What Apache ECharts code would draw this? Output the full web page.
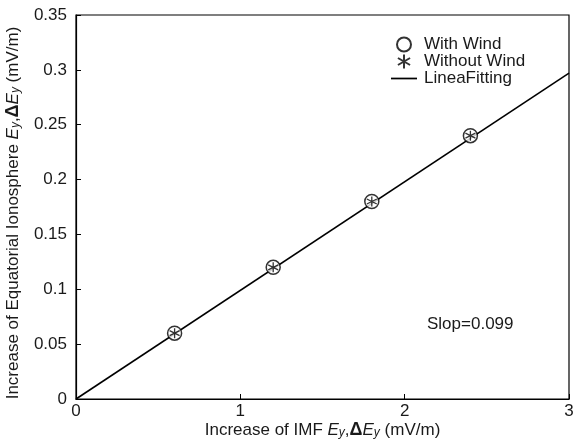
<!DOCTYPE html>
<html>
<head>
<meta charset="utf-8">
<script src="https://cdn.jsdelivr.net/npm/echarts@6/dist/echarts.min.js"></script>
<style>
  html, body { margin: 0; padding: 0; background: #fff; }
  #chart { width: 573px; height: 441px; }
</style>
</head>
<body>
<div id="chart"></div>
<script>
const imfIncrease = [0.6, 1.2, 1.8, 2.4]
const withWind = [0.06, 0.12, 0.18, 0.24]
const withoutWind = [0.06, 0.12, 0.18, 0.24]
const fitX = [0, 3]
const fitY = [0, 0.297]
const slopeLabel = 'Slop=0.099'

const font = 'Liberation Sans, Arial, sans-serif'
const asterisk = 'path://M0,-10L0,10M-8.66,-5L8.66,5M-8.66,5L8.66,-5'
const lineIcon = 'path://M0,0L30,0L30,2L0,2Z'
const txt = '#1a1a1a'

const chart = echarts.init(document.getElementById('chart'))

// rich text for the italic E with subscript y
const nameRich = {
  n: { fontSize: 17, fontFamily: font, color: txt },
  i: { fontSize: 17, fontFamily: font, fontStyle: 'italic', color: txt },
  s: { fontSize: 12, fontFamily: font, fontStyle: 'italic', color: txt, padding: [6, 0, 0, 0] },
  d: { fontSize: 18, fontFamily: font, fontWeight: 'bold', color: txt }
}

const axisCommon = {
  axisLine: { show: true, onZero: false, lineStyle: { color: '#000', width: 1.2 } },
  axisTick: { inside: true, length: 5, lineStyle: { color: '#000' } },
  axisLabel: { color: txt, fontSize: 17, fontFamily: font },
  splitLine: { show: false },
  nameMoveOverlap: false
}

chart.setOption({
  animation: false,
  backgroundColor: '#fff',
  grid: {
    left: 76, right: 4, top: 15, bottom: 42, outerBoundsMode: 'none',
    show: true, borderColor: '#000', borderWidth: 1.2
  },
  xAxis: Object.assign({}, axisCommon, {
    type: 'value', min: 0, max: 3, interval: 1,
    name: '{n|Increase of IMF }{i|E}{s|y}{n|,}{d|Δ}{i|E}{s|y}{n| (mV/m)}',
    nameLocation: 'middle', nameGap: 22,
    nameTextStyle: { rich: nameRich },
    axisLabel: Object.assign({}, axisCommon.axisLabel, { margin: 4 })
  }),
  yAxis: Object.assign({}, axisCommon, {
    type: 'value', min: 0, max: 0.35, interval: 0.05,
    name: '{n|Increase of Equatorial Ionosphere }{i|E}{s|y}{n|,}{d|Δ}{i|E}{s|y}{n| (mV/m)}',
    nameLocation: 'middle', nameGap: 54,
    nameTextStyle: { rich: nameRich, padding: [0, 12, 0, 0] },
    axisLabel: Object.assign({}, axisCommon.axisLabel, {
      margin: 9,
      formatter: v => String(+v.toFixed(2))
    })
  }),
  legend: {
    orient: 'vertical', left: 386, top: 31, itemGap: -1,
    itemWidth: 26, itemHeight: 14,
    textStyle: { fontSize: 17, fontFamily: font, color: txt, padding: [0, 0, 0, 2] },
    data: [
      'With Wind',
      'Without Wind',
      { name: 'LineaFitting', icon: lineIcon, itemStyle: { color: '#000' } }
    ]
  },
  graphic: [{
    type: 'text', left: 427, top: 316,
    style: { text: slopeLabel, fontSize: 17, fontFamily: font, fill: txt }
  }],
  series: [
    {
      name: 'LineaFitting', type: 'line', symbol: 'none',
      data: fitX.map((x, i) => [x, fitY[i]]),
      lineStyle: { color: '#000', width: 1.6 }, itemStyle: { color: '#000' }, z: 1
    },
    {
      name: 'With Wind', type: 'scatter', symbol: 'circle', symbolSize: 14,
      data: imfIncrease.map((x, i) => [x, withWind[i]]),
      itemStyle: { color: '#fff', borderColor: '#000', borderWidth: 1.5 }, z: 3
    },
    {
      name: 'Without Wind', type: 'scatter', symbol: asterisk, symbolSize: 10,
      data: imfIncrease.map((x, i) => [x, withoutWind[i]]),
      itemStyle: { color: 'none', borderColor: '#000', borderWidth: 1.3 }, z: 4
    }
  ]
})
</script>
</body>
</html>
